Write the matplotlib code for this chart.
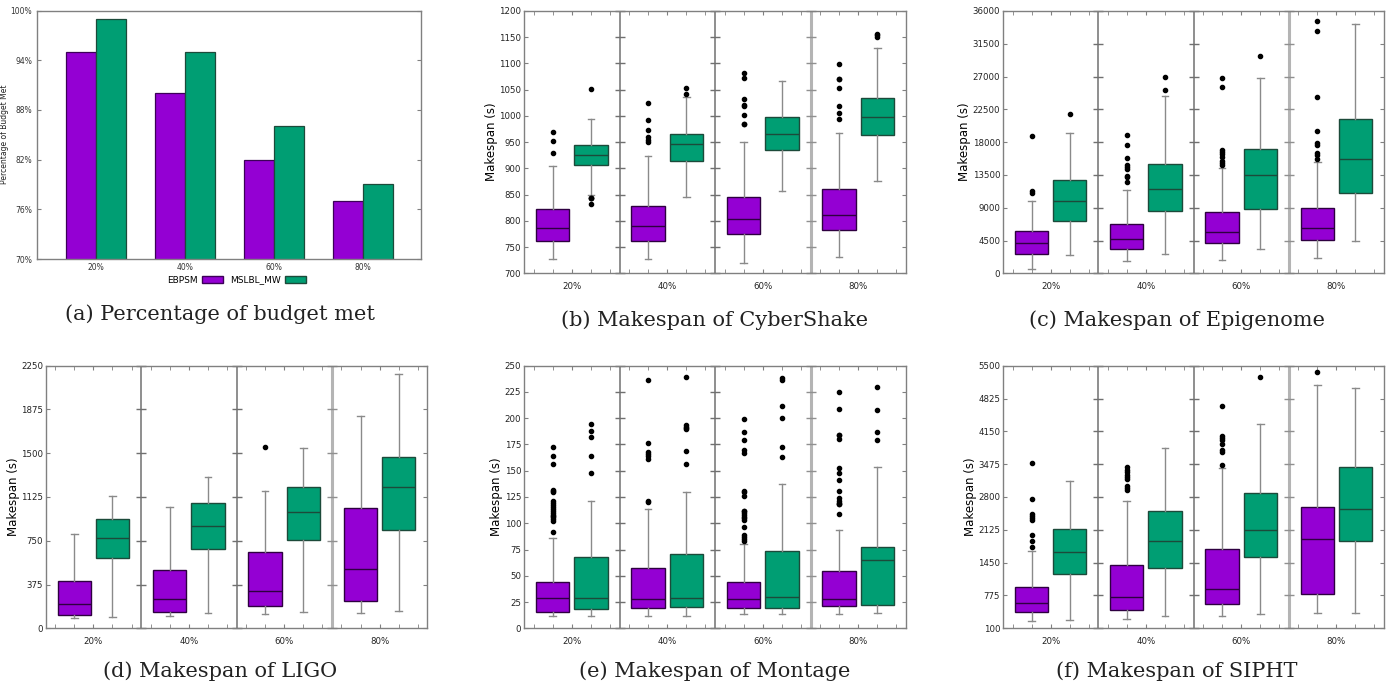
import numpy as np
import matplotlib
matplotlib.use('Agg')
import matplotlib.pyplot as plt
from matplotlib.patches import Patch

# ---- data ----
groups = ['20%', '40%', '60%', '80%']
met_ebpsm = [95, 90, 82, 77]
met_mslbl = [99, 95, 86, 79]

# box stats per group: (q1, median, q3, whisker low, whisker high, outliers)
cyber_ebpsm = [
    (762, 787, 823, 727, 905, [969, 953, 929]),
    (762, 791, 828, 727, 923, [1025, 993, 974, 959, 954, 950]),
    (775, 804, 846, 719, 951, [1081, 1072, 1032, 1021, 1019, 1002, 984, 984]),
    (783, 812, 861, 732, 967, [1099, 1070, 1070, 1054, 1019, 1005, 995]),
]
cyber_mslbl = [
    (907, 925, 945, 850, 995, [1051, 844, 844, 844, 832]),
    (915, 946, 966, 845, 1037, [1053, 1042]),
    (935, 965, 997, 856, 1066, []),
    (963, 998, 1034, 876, 1129, [1157, 1154, 1150]),
]
epi_ebpsm = [
    (2700, 4120, 5850, 600, 9880, [18800, 11340, 11070]),
    (3290, 4710, 6720, 1650, 11430, [19030, 17560, 15830, 14910, 14640, 14360, 13310, 13170, 12530]),
    (4120, 5630, 8370, 1830, 14410, [26850, 25570, 16970, 16600, 16330, 16010, 15370, 15100, 14870]),
    (4530, 6180, 8970, 2100, 15280, [34670, 33300, 24240, 19490, 17930, 17660, 16470, 16190, 15740]),
]
epi_mslbl = [
    (7140, 9930, 12760, 2470, 19210, [21820]),
    (8510, 11530, 15050, 2610, 24330, [26940, 25110]),
    (8870, 13450, 17020, 3390, 26760, [29780]),
    (10980, 15640, 21130, 4440, 34170, []),
]
ligo_ebpsm = [
    (114, 206, 405, 86, 808, []),
    (137, 251, 500, 103, 1039, []),
    (188, 320, 657, 120, 1174, [1550]),
    (231, 505, 1028, 128, 1819, []),
]
ligo_mslbl = [
    (600, 774, 934, 100, 1136, []),
    (677, 874, 1071, 128, 1293, []),
    (754, 994, 1208, 137, 1542, []),
    (845, 1208, 1465, 146, 2181, []),
]
mont_ebpsm = [
    (15.2, 28.6, 43.8, 11.4, 85.7, [172.9, 164, 156.4, 132, 131, 129.8, 120.9, 119.6, 117.7, 115.8,
                                     113.9, 112, 110, 108, 107.2, 106.3, 104.4, 101.8, 91.7]),
    (19.4, 27.9, 57.1, 11.4, 113.3, [236.7, 176.4, 168.1, 166.2, 163.7, 161.2, 120.9, 119.9]),
    (19.4, 27.6, 44.1, 13.3, 80.3, [198.9, 187.2, 178.9, 169.4, 166.6, 130.7, 129.4, 126.3, 112, 112,
                                     110, 108.2, 106.3, 105, 103.1, 96.1, 89.1, 87.2, 85, 83.1]),
    (20.9, 27.6, 54.3, 13.3, 93.9, [224.9, 208.8, 184.3, 184.3, 179.9, 152.6, 148.2, 141.2, 131,
                                     123.7, 121.5, 119.3, 118, 118, 108.8]),
]
mont_mslbl = [
    (18.1, 29.2, 68.2, 11.4, 120.9, [194.2, 187.5, 181.8, 164, 148.2]),
    (20.0, 28.6, 71.1, 12.0, 129.4, [239.2, 193.8, 192, 190.4, 189.4, 169.1, 156.1]),
    (19.7, 29.5, 73.9, 13.3, 137.7, [238, 236.4, 211.9, 200.5, 172.9, 163]),
    (21.9, 64.7, 77.1, 14.3, 153.2, [229.7, 207.8, 187.2, 178.9]),
]
sipht_ebpsm = [
    (429, 614, 943, 244, 1697, [3506, 2766, 2457, 2409, 2361, 2320, 2012, 1889, 1779]),
    (470, 751, 1402, 299, 2711, [3417, 3355, 3307, 3259, 3218, 3177, 3033, 2985, 2944]),
    (600, 902, 1738, 354, 3389, [4664, 4047, 4006, 3972, 3897, 3773, 3732, 3451]),
    (806, 1943, 2594, 408, 5110, [5377]),
]
sipht_mslbl = [
    (1224, 1676, 2135, 264, 3136, []),
    (1334, 1902, 2505, 347, 3801, []),
    (1560, 2122, 2875, 388, 4308, [5267]),
    (1902, 2560, 3410, 408, 5034, []),
]

purple = '#9400D3'
green = '#009E73'

fig = plt.figure(figsize=(13.95, 6.87), dpi=100)
W, H = 1395.0, 687.0


def add_ax(l, t, r, b):
    return fig.add_axes([l / W, 1 - b / H, (r - l) / W, (b - t) / H])


def style_spines(ax):
    for s in ax.spines.values():
        s.set_color('#808080')
        s.set_linewidth(1.0)


# ---- (a) bar chart ----
ax = add_ax(37, 10.5, 421, 259)
x = np.arange(len(groups))
bw = 0.34
ax.bar(x - bw / 2, met_ebpsm, bw, color=purple, edgecolor='#3c0058', linewidth=0.9, label='EBPSM')
ax.bar(x + bw / 2, met_mslbl, bw, color=green, edgecolor='#1c4a3a', linewidth=0.9, label='MSLBL_MW')
ax.set_xlim(-0.66, 3.65)
ax.set_ylim(70, 100)
ax.set_yticks([70, 76, 82, 88, 94, 100])
ax.set_yticklabels(['70%', '76%', '82%', '88%', '94%', '100%'])
ax.set_xticks(x)
ax.set_xticklabels(groups)
ax.tick_params(axis='both', labelsize=5.5, direction='in', length=3, color='#808080',
               right=True, top=False, labelcolor='#333333')
ax.tick_params(axis='x', length=0, pad=3)
ax.set_ylabel('Percentage of Budget Met', fontsize=5.5, color='#222222', labelpad=1)
style_spines(ax)
handles = [Patch(facecolor=purple, edgecolor='#3c0058'), Patch(facecolor=green, edgecolor='#1c4a3a')]
ax.legend(handles, ['EBPSM', 'MSLBL_MW'], loc='upper center', bbox_to_anchor=(0.52, -0.045),
          ncol=2, frameon=False, markerfirst=False, fontsize=6.5, handlelength=2.3,
          handleheight=0.7, columnspacing=0.8, handletextpad=0.5, borderpad=0.1)


# ---- box plot panels ----
def stats_list(rows):
    out = []
    for q1, med, q3, lo, hi, fl in rows:
        out.append(dict(q1=q1, med=med, q3=q3, whislo=lo, whishi=hi, fliers=fl))
    return out


def box_panel(rect, ebpsm, mslbl, yticks):
    ax = add_ax(*rect)
    pos = np.arange(len(groups))
    for rows, off, col, edge in [(ebpsm, -0.2, purple, '#2e0040'), (mslbl, 0.2, green, '#1c4a3a')]:
        ax.bxp(stats_list(rows), positions=pos + off, widths=0.35, patch_artist=True,
               showcaps=True, capwidths=0.07,
               boxprops=dict(facecolor=col, edgecolor=edge, linewidth=1.0),
               medianprops=dict(color=edge, linewidth=1.0),
               whiskerprops=dict(color='#8a8a8a', linewidth=1.0),
               capprops=dict(color='#8a8a8a', linewidth=1.0),
               flierprops=dict(marker='o', markersize=3, markerfacecolor='black',
                               markeredgecolor='black'))
    ax.set_xlim(-0.5, len(groups) - 0.5)
    ax.set_ylim(yticks[0], yticks[-1])
    ax.set_yticks(yticks)
    ax.set_xticks(pos)
    ax.set_xticklabels(groups)
    minor = [p + d for p in pos for d in (-0.4, -0.2, 0.2, 0.4)]
    ax.set_xticks(minor, minor=True)
    ax.tick_params(axis='both', which='both', labelsize=6.2, direction='in', length=3,
                   color='#808080', right=True, top=True, labelcolor='#222222')
    ax.tick_params(axis='x', pad=6)
    ax.tick_params(axis='y', pad=2)
    ax.set_ylabel('Makespan (s)', fontsize=8.5, labelpad=1)
    seps = [0.5, 1.5, 2.5]
    for i, s in enumerate(seps):
        if i < 2:
            ax.axvline(s, color='#707070', linewidth=1.1)
            c = '#707070'
        else:
            ax.axvline(s, color='#b4b4b4', linewidth=2.2)
            c = '#909090'
        ax.plot([s] * len(yticks), yticks, ls='none', marker='_', markersize=7,
                color=c, markeredgewidth=1.0, clip_on=False)
    style_spines(ax)
    return ax


box_panel((524, 11, 906, 273.3), cyber_ebpsm, cyber_mslbl, list(range(700, 1201, 50)))
box_panel((1003, 11, 1384, 273.3), epi_ebpsm, epi_mslbl, list(range(0, 36001, 4500)))
box_panel((45.7, 365.7, 427.3, 628.3), ligo_ebpsm, ligo_mslbl, list(range(0, 2251, 375)))
box_panel((524, 365.7, 906, 628.3), mont_ebpsm, mont_mslbl, list(range(0, 251, 25)))
box_panel((1003, 365.7, 1384, 628.3), sipht_ebpsm, sipht_mslbl, list(range(100, 5501, 675)))

# ---- captions ----
captions = [
    (220, 314, '(a) Percentage of budget met'),
    (715, 320, '(b) Makespan of CyberShake'),
    (1177, 320, '(c) Makespan of Epigenome'),
    (220, 671, '(d) Makespan of LIGO'),
    (715, 671, '(e) Makespan of Montage'),
    (1177, 671, '(f) Makespan of SIPHT'),
]
for cx, cy, txt in captions:
    fig.text(cx / W, 1 - cy / H, txt, ha='center', va='center', fontsize=15,
             family='DejaVu Serif', color='#222222')

fig.savefig('out.png', dpi=100)
